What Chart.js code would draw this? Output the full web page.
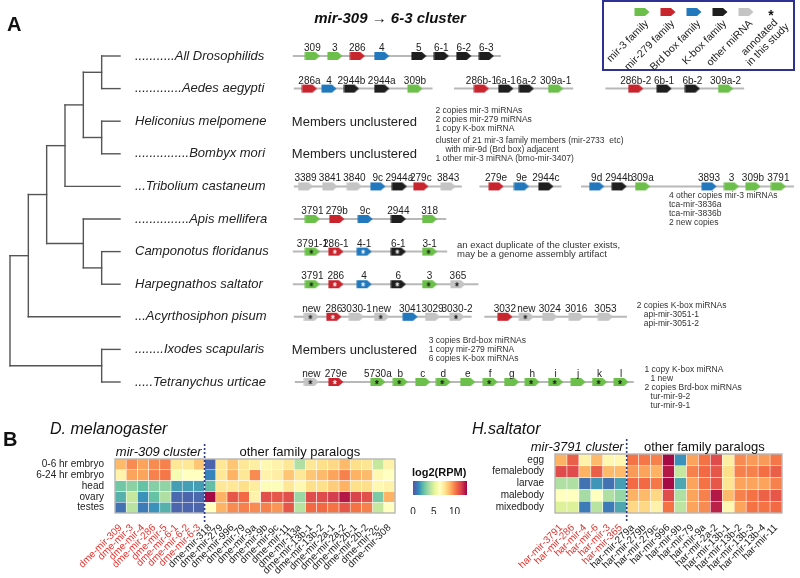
<!DOCTYPE html>
<html>
<head>
<meta charset="utf-8">
<script src="https://cdn.jsdelivr.net/npm/chart.js@4.4.1/dist/chart.umd.min.js"></script>
<style>
  body { margin: 0; background: #fff; width: 800px; height: 578px; position: relative; overflow: hidden; }
  canvas { position: absolute; }
</style>
</head>
<body>
<canvas id="tree" width="280" height="430" style="left:0;top:0"></canvas>
<canvas id="genes" width="520" height="430" style="left:280px;top:0"></canvas>
<canvas id="dme" width="410" height="166" style="left:0;top:412px"></canvas>
<canvas id="har" width="380" height="166" style="left:420px;top:412px"></canvas>
<canvas id="cbar" width="80" height="52" style="left:400px;top:462px"></canvas>
<script>
const FONT = '"Liberation Sans", Arial, Helvetica, sans-serif';

// ---------- panel A ----------
const species = [
  "...........All Drosophilids",
  ".............Aedes aegypti",
  "Heliconius melpomene",
  "...............Bombyx mori",
  "...Tribolium castaneum",
  "...............Apis mellifera",
  "Camponotus floridanus",
  "Harpegnathos saltator",
  "...Acyrthosiphon pisum",
  "........Ixodes scapularis",
  ".....Tetranychus urticae",
];

// cladogram: [node depth, children], leaves = row index (depth 6)
const tree = [0, [
  [1, [
    [2, [
      [3, [[4, [[5, [0, 1]], [5, [2, 3]]]], 4]],
      [4, [5, [5, [6, 7]]]],
    ]],
    8,
  ]],
  [5, [9, 10]],
]];

// backbone segments: [row, start, end] (map position)
const backbones = [
  [0, 7, 220],
  [1, 8, 150], [1, 172, 294], [1, 327, 469],
  [4, 8, 180], [4, 198, 282], [4, 302, 520],
  [5, 8, 164],
  [6, 7, 165],
  [7, 7, 197],
  [8, 8, 190], [8, 203, 349],
  [10, 9, 356],
];

// genes: [row, name, family, position, annotated-here]
// families: g mir-3, r mir-279, b Brd box, k K-box, o other
const genes = [
  [0, "309", "g", 27], [0, "3", "g", 50], [0, "286", "r", 73], [0, "4", "b", 98],
  [0, "5", "k", 136], [0, "6-1", "k", 159], [0, "6-2", "k", 182], [0, "6-3", "k", 205],
  [1, "286a", "r", 24], [1, "4", "b", 44], [1, "2944b", "k", 67], [1, "2944a", "k", 98], [1, "309b", "g", 132],
  [1, "286b-1", "r", 200], [1, "6a-1", "k", 225], [1, "6a-2", "k", 246], [1, "309a-1", "g", 276],
  [1, "286b-2", "r", 358], [1, "6b-1", "k", 387], [1, "6b-2", "k", 416], [1, "309a-2", "g", 450],
  [4, "3389", "o", 20], [4, "3841", "o", 45], [4, "3840", "o", 70], [4, "9c", "b", 94],
  [4, "2944a", "k", 116], [4, "279c", "r", 138], [4, "3843", "o", 166],
  [4, "279e", "r", 215], [4, "9e", "b", 241], [4, "2944c", "k", 266],
  [4, "9d", "b", 318], [4, "2944b", "k", 341], [4, "309a", "g", 365],
  [4, "3893", "b", 433], [4, "3", "g", 456], [4, "309b", "g", 478], [4, "3791", "g", 504],
  [5, "3791", "g", 27], [5, "279b", "r", 52], [5, "9c", "b", 81], [5, "2944", "k", 115], [5, "318", "g", 147],
  [6, "3791-1", "g", 27, 1], [6, "286-1", "r", 51, 1], [6, "4-1", "b", 80, 1], [6, "6-1", "k", 115, 1], [6, "3-1", "g", 147, 1],
  [7, "3791", "g", 27, 1], [7, "286", "r", 51, 1], [7, "4", "b", 80, 1], [7, "6", "k", 115, 1], [7, "3", "g", 147, 1], [7, "365", "o", 176, 1],
  [8, "new", "o", 26, 1], [8, "286", "r", 49, 1], [8, "3030-1", "o", 72], [8, "new", "o", 98, 1],
  [8, "3041", "b", 127], [8, "3029", "o", 150], [8, "3030-2", "o", 175, 1],
  [8, "3032", "r", 224], [8, "new", "o", 246, 1], [8, "3024", "o", 270], [8, "3016", "o", 297], [8, "3053", "o", 327],
  [10, "new", "o", 26, 1], [10, "279e", "r", 51, 1], [10, "5730a", "g", 94, 1], [10, "b", "g", 117, 1],
  [10, "c", "g", 140], [10, "d", "g", 161, 1], [10, "e", "g", 186], [10, "f", "g", 209, 1],
  [10, "g", "g", 231], [10, "h", "g", 252, 1], [10, "i", "g", 276, 1], [10, "j", "g", 299],
  [10, "k", "g", 321, 1], [10, "l", "g", 343, 1],
];

const unclustered = [2, 3, 9];

// notes: row, position, first-line offset, lines [indent, text]
const notes = [
  { row: 2, x: 153, dy: -11, lines: [[0, "2 copies mir-3 miRNAs"], [0, "2 copies mir-279 miRNAs"], [0, "1 copy K-box miRNA"]] },
  { row: 3, x: 153, dy: -13, lines: [[0, "cluster of 21 mir-3 family members (mir-2733  etc)"], [10, "with mir-9d (Brd box) adjacent"], [0, "1 other mir-3 miRNA (bmo-mir-3407)"]] },
  { row: 4, x: 392, dy: 9, lines: [[0, "4 other copies mir-3 miRNAs"], [0, "tca-mir-3836a"], [0, "tca-mir-3836b"], [0, "2 new copies"]] },
  { row: 6, x: 175, dy: -6, size: 9.5, lines: [[0, "an exact duplicate of the cluster exists,"], [0, "may be a genome assembly artifact"]] },
  { row: 8, x: 359, dy: -11, lines: [[0, "2 copies K-box miRNAs"], [7, "api-mir-3051-1"], [7, "api-mir-3051-2"]] },
  { row: 9, x: 146, dy: -9, lines: [[0, "3 copies Brd-box miRNAs"], [0, "1 copy mir-279 miRNA"], [0, "6 copies K-box miRNAs"]] },
  { row: 10, x: 367, dy: -12, lines: [[0, "1 copy K-box miRNA"], [6, "1 new"], [0, "2 copies Brd-box miRNAs"], [6, "tur-mir-9-2"], [6, "tur-mir-9-1"]] },
];

const families = ["g", "r", "b", "k", "o"];
const familyNames = ["mir-3 family", "mir-279 family", "Brd box family", "K-box family", "other miRNA"];
const famColor = { g: "#6cbf4a", r: "#c9252f", b: "#2278bd", k: "#1e1e1e", o: "#c4c4c4" };

// ---------- panel B ----------
const dmeRows = ["0-6 hr embryo", "6-24 hr embryo", "head", "ovary", "testes"];
const dmeCluster = ["dme-mir-309", "dme-mir-3", "dme-mir-4", "dme-mir-286", "dme-mir-5", "dme-mir-6-1", "dme-mir-6-2", "dme-mir-6-3"];
const dmeOther = ["dme-mir-318", "dme-mir-279", "dme-mir-996", "dme-mir-79", "dme-mir-9a", "dme-mir-9b", "dme-mir-9c",
  "dme-mir-11", "dme-mir-13a", "dme-mir-13b-1", "dme-mir-13b-2", "dme-mir-2a-1", "dme-mir-2a-2", "dme-mir-2b-1",
  "dme-mir-2b-2", "dme-mir-2c", "dme-mir-308"];
const dmeValues = [
  [8.8, 9.8, 9.3, 9.8, 10.0, 7.5, 7.5, 8.5, 0.5, 7.5, 8.5, 7.5, 7.2, 6.8, 7.0, 7.5, 4.0, 7.5, 7.8, 8.0, 8.8, 7.8, 7.6, 4.5, 7.0],
  [7.0, 9.3, 9.3, 10.0, 10.2, 6.0, 6.5, 6.5, 1.2, 7.5, 9.0, 7.5, 9.8, 7.0, 7.2, 8.5, 7.5, 8.5, 8.8, 9.3, 10.0, 9.0, 8.8, 6.8, 6.5],
  [2.8, 3.3, 2.6, 3.2, 3.4, 1.8, 1.8, 1.8, 2.5, 7.5, 7.5, 7.8, 7.3, 6.3, 6.3, 7.5, 6.8, 7.8, 7.8, 8.3, 9.0, 7.8, 7.8, 6.8, 7.0],
  [2.2, 4.5, 1.5, 2.6, 4.0, 0.6, 0.5, 0.6, 12.8, 9.0, 11.0, 10.5, 7.0, 11.2, 11.0, 11.2, 3.6, 11.3, 11.3, 11.7, 12.5, 11.5, 11.2, 3.0, 9.0],
  [0.8, 4.2, 1.0, 1.5, 2.2, 0.5, 0.5, 0.5, 6.5, 9.0, 9.8, 10.0, 9.8, 10.0, 9.6, 11.0, 4.2, 10.5, 10.5, 10.3, 11.0, 10.3, 10.0, 4.5, 6.5],
];

const harRows = ["egg", "femalebody", "larvae", "malebody", "mixedbody"];
const harCluster = ["har-mir-3791", "har-mir-286", "har-mir-4", "har-mir-6", "har-mir-3", "har-mir-365"];
const harOther = ["har-mir-279a", "har-mir-279b", "har-mir-279c", "har-mir-996", "har-mir-9b", "har-mir-79", "har-mir-9a",
  "har-mir-2a-2", "har-mir-13b-1", "har-mir-13b-2", "har-mir-13b-3", "har-mir-13b-4", "har-mir-11"];
const harValues = [
  [9.0, 10.8, 7.0, 8.8, 6.8, 6.8, 10.3, 10.2, 10.0, 12.8, 1.5, 9.3, 10.3, 11.3, 7.2, 9.8, 9.5, 9.5, 10.2],
  [11.3, 11.3, 9.0, 10.8, 8.8, 8.8, 9.5, 9.3, 9.0, 12.5, 4.5, 10.0, 10.5, 11.0, 7.8, 10.0, 10.0, 10.4, 10.8],
  [4.0, 4.0, 0.8, 1.6, 0.8, 1.8, 10.5, 10.5, 10.2, 12.8, 2.0, 9.3, 10.3, 11.0, 7.6, 9.3, 9.3, 9.3, 10.0],
  [6.5, 6.5, 3.8, 6.5, 4.0, 3.5, 9.0, 8.8, 8.0, 11.3, 4.0, 9.3, 10.0, 12.5, 8.8, 10.0, 10.3, 10.7, 11.0],
  [5.0, 5.0, 1.0, 4.2, 1.0, 2.0, 8.0, 8.0, 7.0, 10.3, 4.3, 9.3, 9.8, 12.3, 6.8, 9.3, 10.3, 10.3, 10.5],
];

const colorTicks = [0, 5, 10];
const VMIN = 0, VMAX = 13;
const spectral = ["#5e4fa2", "#3288bd", "#66c2a5", "#abdda4", "#e6f598", "#ffffbf", "#fee08b", "#fdae61", "#f46d43", "#d53e4f", "#9e0142"];

function heatColor(v) {
  const n = spectral.length - 1;
  const t = Math.max(0, Math.min(1, (v - VMIN) / (VMAX - VMIN))) * n;
  const i = Math.min(Math.floor(t), n - 1), f = t - i;
  const a = spectral[i], b = spectral[i + 1];
  const ch = (s, k) => parseInt(s.substr(1 + 2 * k, 2), 16);
  const c = [0, 1, 2].map((k) => Math.round(ch(a, k) + (ch(b, k) - ch(a, k)) * f));
  return `rgb(${c[0]},${c[1]},${c[2]})`;
}

// gene arrow glyph
const iconCache = {};
function geneIcon(fam, star) {
  const key = fam + (star ? "*" : "");
  if (iconCache[key]) return iconCache[key];
  const c = document.createElement("canvas");
  c.width = 16; c.height = 14;
  const x = c.getContext("2d");
  x.fillStyle = famColor[fam];
  x.beginPath();
  x.moveTo(0.5, 3); x.lineTo(11, 3); x.lineTo(15.5, 7); x.lineTo(11, 11); x.lineTo(0.5, 11);
  x.closePath(); x.fill();
  if (star) {
    x.fillStyle = fam === "g" || fam === "o" ? "#111" : "#fff";
    x.font = "bold 10px " + FONT;
    x.textAlign = "center";
    x.textBaseline = "alphabetic";
    x.fillText("*", 7, 13);
  }
  iconCache[key] = c;
  return c;
}

// ---------- tree ----------
const segs = [];
function layoutTree(node) {
  if (typeof node === "number") return { x: 6, y: node };
  const [d, kids] = node;
  const pts = kids.map(layoutTree);
  pts.forEach((p) => segs.push([{ x: d, y: p.y }, { x: p.x, y: p.y }]));
  segs.push([{ x: d, y: pts[0].y }, { x: d, y: pts[pts.length - 1].y }]);
  return { x: d, y: (pts[0].y + pts[pts.length - 1].y) / 2 };
}
layoutTree(tree);

new Chart(document.getElementById("tree"), {
  type: "scatter",
  data: {
    datasets: segs.map((s) => ({
      data: s, showLine: true, pointRadius: 0, borderColor: "#555", borderWidth: 1.4,
      borderCapStyle: "square", clip: false,
    })),
  },
  options: {
    responsive: false, animation: false, events: [],
    layout: { padding: { left: 10, top: 56, bottom: 48, right: 0 } },
    plugins: { legend: { display: false }, tooltip: { enabled: false } },
    scales: {
      x: { type: "linear", min: 0, max: 6, display: false },
      y: {
        type: "linear", min: 0, max: 10, reverse: true, position: "right",
        afterBuildTicks: (ax) => { ax.ticks = species.map((_, i) => ({ value: i })); },
        afterFit: (ax) => { ax.width = 160; },
        grid: { display: false }, border: { display: false },
        ticks: {
          autoSkip: false, padding: 7, color: "#222",
          font: { family: FONT, size: 13, style: "italic" },
          callback: (v) => species[v],
        },
      },
    },
  },
  plugins: [{
    id: "panelA",
    afterDraw(chart) {
      const c = chart.ctx;
      c.save();
      c.fillStyle = "#111";
      c.font = "bold 20px " + FONT;
      c.textBaseline = "middle";
      c.fillText("A", 7, 25);
      c.restore();
    },
  }],
});

// ---------- gene clusters ----------
new Chart(document.getElementById("genes"), {
  type: "scatter",
  data: {
    datasets: [
      {
        data: genes.map((g) => ({ x: g[3], y: g[0], name: g[1], fam: g[2], star: !!g[4] })),
        pointStyle: (ctx) => (ctx.raw ? geneIcon(ctx.raw.fam, ctx.raw.star) : "circle"),
        pointRadius: 5, clip: false,
      },
      ...backbones.map((b) => ({
        data: [{ x: b[1], y: b[0] }, { x: b[2], y: b[0] }],
        showLine: true, pointRadius: 0, borderColor: "#b8b8b8", borderWidth: 2, clip: false,
      })),
    ],
  },
  options: {
    responsive: false, animation: false, events: [],
    layout: { padding: { left: 0, top: 56, bottom: 48, right: 0 } },
    plugins: { legend: { display: false }, tooltip: { enabled: false } },
    scales: {
      x: { type: "linear", min: 0, max: 520, display: false },
      y: { type: "linear", min: 0, max: 10, reverse: true, display: false },
    },
  },
  plugins: [{
    id: "geneDecor",
    afterDraw(chart) {
      const c = chart.ctx;
      const xs = chart.scales.x, ys = chart.scales.y;
      c.save();
      // gene names
      c.fillStyle = "#222";
      c.font = "10px " + FONT;
      c.textAlign = "center";
      c.textBaseline = "alphabetic";
      chart.getDatasetMeta(0).data.forEach((el, i) => {
        c.fillText(genes[i][1], el.x, el.y - 5);
      });
      // unclustered rows
      c.font = "13px " + FONT;
      c.textAlign = "left";
      c.textBaseline = "middle";
      unclustered.forEach((r) => c.fillText("Members unclustered", xs.getPixelForValue(6), ys.getPixelForValue(r) + 1));
      // notes
      c.fillStyle = "#333";
      notes.forEach((n) => {
        c.font = (n.size || 8.5) + "px " + FONT;
        const x0 = xs.getPixelForValue(n.x), y0 = ys.getPixelForValue(n.row) + n.dy;
        n.lines.forEach(([ind, t], k) => c.fillText(t, x0 + ind, y0 + k * 9));
      });
      // title
      c.fillStyle = "#111";
      c.font = "italic bold 15px " + FONT;
      c.textAlign = "center";
      c.fillText("mir-309 \u2192 6-3 cluster", 110, 19);
      // legend box
      c.strokeStyle = "#2e3192";
      c.lineWidth = 2;
      c.strokeRect(323, 1, 191, 69);
      families.forEach((f, i) => {
        const cx = 362 + i * 26;
        c.drawImage(geneIcon(f, false), cx - 8, 5);
        c.save();
        c.translate(cx + 5, 22);
        c.rotate(-Math.PI / 4);
        c.font = "10.5px " + FONT;
        c.fillStyle = "#222";
        c.textAlign = "right";
        c.textBaseline = "middle";
        c.fillText(familyNames[i], 0, 0);
        c.restore();
      });
      c.font = "bold 14px " + FONT;
      c.textAlign = "center";
      c.fillText("*", 491, 16);
      c.save();
      c.translate(496, 21);
      c.rotate(-Math.PI / 4);
      c.font = "10.5px " + FONT;
      c.fillStyle = "#222";
      c.textAlign = "right";
      c.textBaseline = "middle";
      c.fillText("annotated", 0, 0);
      c.fillText("in this study", 5, 11);
      c.restore();
      c.restore();
    },
  }],
});

// ---------- heatmaps ----------
const heatDecor = {
  id: "heatDecor",
  afterDraw(chart, args, o) {
    const c = chart.ctx, a = chart.chartArea, xs = chart.scales.x;
    c.save();
    c.strokeStyle = "#aaa";
    c.lineWidth = 1.2;
    c.strokeRect(a.left, a.top, a.right - a.left, a.bottom - a.top);
    const sep = xs.getPixelForValue(o.nCluster - 0.5);
    c.strokeStyle = "#2d3a8c";
    c.lineWidth = 1.6;
    c.setLineDash([2, 2]);
    c.beginPath();
    c.moveTo(sep, a.top - 15);
    c.lineTo(sep, a.bottom + 9);
    c.stroke();
    c.setLineDash([]);
    c.fillStyle = "#111";
    c.textBaseline = "middle";
    c.font = "italic 13px " + FONT;
    c.textAlign = "right";
    c.fillText(o.clusterLabel, sep - 3, a.top - 7);
    c.font = "13px " + FONT;
    c.textAlign = "center";
    c.fillText("other family paralogs", (sep + a.right) / 2, a.top - 7);
    c.font = "italic 16px " + FONT;
    c.textAlign = "left";
    c.fillText(o.title, o.titleX, 18);
    if (o.panel) {
      c.font = "bold 20px " + FONT;
      c.fillText(o.panel, 3, 28);
    }
    c.restore();
  },
};

function heatmap(id, rows, cluster, other, values, decor, pad) {
  const cols = cluster.concat(other);
  return new Chart(document.getElementById(id), {
    type: "bar",
    data: {
      labels: cols,
      datasets: rows.map((r, i) => ({
        label: r,
        data: cols.map(() => [i, i + 1]),
        backgroundColor: values[i].map(heatColor),
        borderColor: "rgba(255,255,255,0.5)",
        borderWidth: 0.6,
        borderSkipped: false,
        grouped: false,
        barPercentage: 1,
        categoryPercentage: 1,
      })),
    },
    options: {
      responsive: false, animation: false, events: [],
      layout: { padding: { left: 0, top: pad.top, right: pad.right, bottom: 0 } },
      plugins: { legend: { display: false }, tooltip: { enabled: false }, heatDecor: decor },
      scales: {
        x: {
          grid: { display: false }, border: { display: false },
          afterFit: (ax) => { ax.height = pad.xh; },
          ticks: {
            autoSkip: false, minRotation: 45, maxRotation: 45, padding: 1,
            font: { family: FONT, size: 10 },
            color: (ctx) => (ctx.index < cluster.length ? "#e2342f" : "#222"),
          },
        },
        y: {
          type: "linear", min: 0, max: rows.length, reverse: true,
          grid: { display: false }, border: { display: false },
          afterFit: (ax) => { ax.width = pad.left; },
          afterBuildTicks: (ax) => { ax.ticks = rows.map((_, i) => ({ value: i + 0.5 })); },
          ticks: {
            autoSkip: false, padding: 3, color: "#222", font: { family: FONT, size: 10 },
            callback: (v) => rows[Math.floor(v)],
          },
        },
      },
    },
    plugins: [heatDecor],
  });
}

heatmap("dme", dmeRows, dmeCluster, dmeOther, dmeValues,
  { nCluster: dmeCluster.length, clusterLabel: "mir-309 cluster", title: "D. melanogaster", titleX: 50, panel: "B" },
  { left: 115, right: 15, top: 47, xh: 65 });
heatmap("har", harRows, harCluster, harOther, harValues,
  { nCluster: harCluster.length, clusterLabel: "mir-3791 cluster", title: "H.saltator", titleX: 52 },
  { left: 135, right: 18, top: 42, xh: 65 });

// ---------- colour key ----------
new Chart(document.getElementById("cbar"), {
  type: "bar",
  data: {
    labels: [""],
    datasets: [{
      data: [[VMIN, VMAX]],
      barPercentage: 1, categoryPercentage: 1,
      backgroundColor: (ctx) => {
        const ch = ctx.chart;
        if (!ch.chartArea) return "#ccc";
        const xs = ch.scales.x;
        const g = ch.ctx.createLinearGradient(xs.getPixelForValue(VMIN), 0, xs.getPixelForValue(VMAX), 0);
        spectral.forEach((s, i) => g.addColorStop(i / (spectral.length - 1), s));
        return g;
      },
    }],
  },
  options: {
    indexAxis: "y", responsive: false, animation: false, events: [],
    layout: { padding: { left: 13, right: 13, top: 19, bottom: 0 } },
    plugins: { legend: { display: false }, tooltip: { enabled: false } },
    scales: {
      y: { display: false },
      x: {
        type: "linear", min: VMIN, max: VMAX,
        grid: { display: false }, border: { display: false },
        afterFit: (ax) => { ax.height = 19; },
        afterBuildTicks: (ax) => { ax.ticks = colorTicks.map((v) => ({ value: v })); },
        ticks: { padding: 3, color: "#222", font: { family: FONT, size: 10 } },
      },
    },
  },
  plugins: [{
    id: "cbarTitle",
    afterDraw(chart) {
      const c = chart.ctx;
      c.save();
      c.fillStyle = "#111";
      c.font = "bold 11px " + FONT;
      c.textBaseline = "middle";
      c.fillText("log2(RPM)", 12, 11);
      c.restore();
    },
  }],
});
</script>
</body>
</html>
